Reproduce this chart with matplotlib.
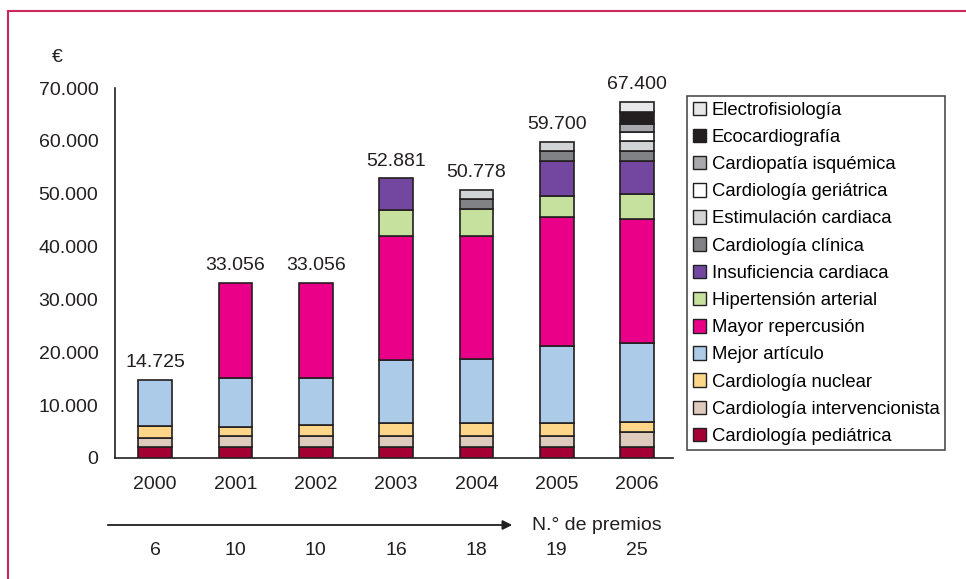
import matplotlib.pyplot as plt
import numpy as np
from matplotlib.lines import Line2D
from matplotlib.patches import Patch

plt.rcParams['font.family'] = ['Liberation Sans', 'DejaVu Sans']

# Datos
years = ["2000", "2001", "2002", "2003", "2004", "2005", "2006"]
totals = [14725, 33056, 33056, 52881, 50778, 59700, 67400]
total_labels = ["14.725", "33.056", "33.056", "52.881", "50.778", "59.700", "67.400"]
n_premios = ["6", "10", "10", "16", "18", "19", "25"]

# Series (de abajo arriba)
pediatrica = [2000, 2000, 2000, 2000, 2000, 2000, 2000]
intervencionista = [1800, 2200, 2200, 2200, 2200, 2200, 2900]
nuclear = [2250, 1700, 2000, 2450, 2450, 2450, 1850]
mejor_articulo = [8675, 9150, 8850, 11860, 12000, 14570, 14950]
mayor_repercusion = [0, 18006, 18006, 23510, 23380, 24350, 23520]
hipertension = [0, 0, 0, 4840, 5050, 3970, 4790]
insuficiencia = [0, 0, 0, 6021, 0, 6620, 6250]
clinica = [0, 0, 0, 0, 1900, 1940, 1880]
estimulacion = [0, 0, 0, 0, 1798, 1600, 1900]
geriatrica = [0, 0, 0, 0, 0, 0, 1590]
isquemica = [0, 0, 0, 0, 0, 0, 1630]
ecocardiografia = [0, 0, 0, 0, 0, 0, 2270]
electrofisiologia = [0, 0, 0, 0, 0, 0, 1860]

series = [
    ("Cardiología pediátrica", pediatrica, "#a50034"),
    ("Cardiología intervencionista", intervencionista, "#dfcbbd"),
    ("Cardiología nuclear", nuclear, "#fed68a"),
    ("Mejor artículo", mejor_articulo, "#abcbe9"),
    ("Mayor repercusión", mayor_repercusion, "#ea0088"),
    ("Hipertensión arterial", hipertension, "#c6e09e"),
    ("Insuficiencia cardiaca", insuficiencia, "#7347a0"),
    ("Cardiología clínica", clinica, "#808285"),
    ("Estimulación cardiaca", estimulacion, "#d1d3d4"),
    ("Cardiología geriátrica", geriatrica, "#ffffff"),
    ("Cardiopatía isquémica", isquemica, "#a7a9ac"),
    ("Ecocardiografía", ecocardiografia, "#231f20"),
    ("Electrofisiología", electrofisiologia, "#e6e7e8"),
]

fig = plt.figure(figsize=(9.66, 5.79), dpi=100)
ax = fig.add_axes([0.119, 0.209, 0.578, 0.639])

x = np.arange(len(years))
bottom = np.zeros(len(years))
for name, vals, col in series:
    vals = np.array(vals, dtype=float)
    mask = vals > 0
    ax.bar(x[mask], vals[mask], bottom=bottom[mask], width=0.42, color=col,
           edgecolor="#231f20", linewidth=1.2, zorder=3)
    bottom += vals

# Totales encima de las barras
for xi, t, lab in zip(x, totals, total_labels):
    ax.text(xi, t + 1700, lab, ha="center", va="bottom", fontsize=14, color="#231f20")

ax.set_xlim(-0.5, 6.45)
ax.set_ylim(0, 70000)
ax.set_yticks(np.arange(0, 70001, 10000))
ax.set_yticklabels(["0", "10.000", "20.000", "30.000", "40.000", "50.000", "60.000", "70.000"])
ax.set_xticks(x)
ax.set_xticklabels(years)
ax.tick_params(axis="both", length=0, labelsize=14, colors="#231f20")
ax.tick_params(axis="y", pad=12)
ax.tick_params(axis="x", pad=13)
for s in ["top", "right"]:
    ax.spines[s].set_visible(False)
for s in ["left", "bottom"]:
    ax.spines[s].set_color("#231f20")
    ax.spines[s].set_linewidth(1.2)

# Símbolo del euro
fig.text(57 / 966, 1 - 58 / 579, "€", ha="center", va="center", fontsize=14, color="#231f20")

# Flecha y número de premios
ax.annotate("", xy=(515 / 966, 1 - 525 / 579), xytext=(105 / 966, 1 - 525 / 579),
            xycoords="figure fraction", textcoords="figure fraction",
            arrowprops=dict(arrowstyle="-|>", color="#231f20", lw=1.3, mutation_scale=14))
fig.text(532 / 966, 1 - 525 / 579, "N.° de premios", ha="left", va="center",
         fontsize=14, color="#231f20")
for xi, n in zip(x, n_premios):
    ax.text(xi, -17500, n, ha="center", va="center", fontsize=14, color="#231f20",
            clip_on=False)

# Leyenda
handles = [Patch(facecolor=col, edgecolor="#231f20", linewidth=1.0, label=name)
           for name, vals, col in reversed(series)]
leg = fig.legend(handles=handles, loc="upper left", bbox_to_anchor=(687 / 966, 1 - 96 / 579),
                 frameon=True, fancybox=False, fontsize=13.3, handlelength=0.75,
                 handleheight=0.75, handletextpad=0.3, labelspacing=0.54,
                 borderpad=0.3, borderaxespad=0)
leg.get_frame().set_edgecolor("#231f20")
leg.get_frame().set_linewidth(1.2)

# Marco exterior
fig.add_artist(Line2D([8 / 966, 8 / 966], [0, 1 - 11 / 579], transform=fig.transFigure,
                      color="#c8285a", lw=1.5))
fig.add_artist(Line2D([8 / 966, 1], [1 - 11 / 579, 1 - 11 / 579], transform=fig.transFigure,
                      color="#c8285a", lw=1.5))

fig.savefig("out.png", dpi=100)
